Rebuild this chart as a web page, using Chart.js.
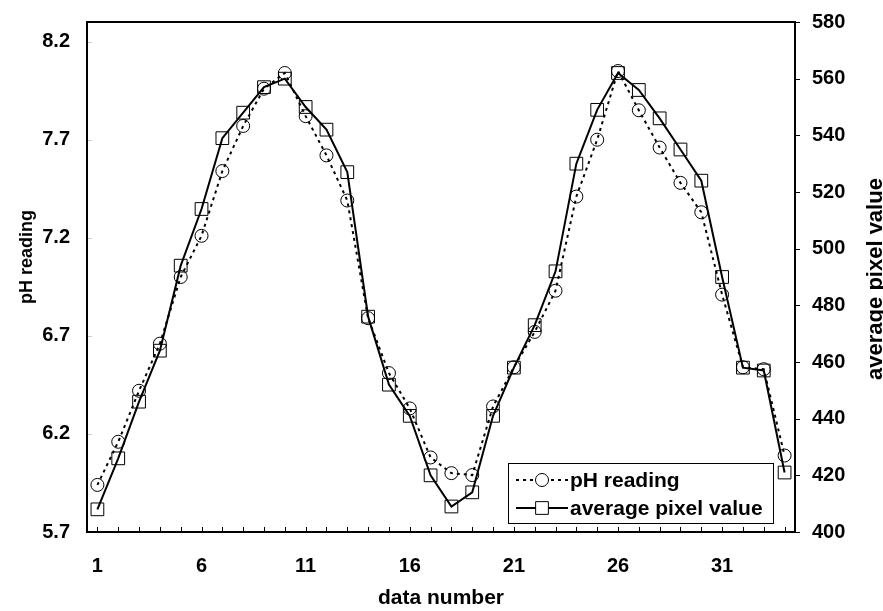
<!DOCTYPE html>
<html>
<head>
<meta charset="utf-8">
<script src="https://cdn.jsdelivr.net/npm/chart.js@4.4.1/dist/chart.umd.min.js"></script>
<style>
  body { margin: 0; background: #fff; }
  canvas { display: block; }
</style>
</head>
<body>
<canvas id="grafico" width="883" height="611"></canvas>
<script>
const ctx = document.getElementById('grafico')

// dados
const dataNumbers = [1, 2, 3, 4, 5, 6, 7, 8, 9, 10, 11, 12, 13, 14, 15, 16, 17,
  18, 19, 20, 21, 22, 23, 24, 25, 26, 27, 28, 29, 30, 31, 32, 33, 34]
const phReading = [5.94, 6.16, 6.42, 6.66, 7.00, 7.21, 7.54, 7.77, 7.96, 8.04, 7.82, 7.62, 7.39, 6.79, 6.51, 6.33, 6.08,
  6.00, 5.99, 6.34, 6.54, 6.72, 6.93, 7.41, 7.70, 8.05, 7.85, 7.66, 7.48, 7.33, 6.91, 6.54, 6.53, 6.09]
const avgPixel = [408, 426, 446, 464, 494, 514, 539, 548, 557, 560, 550, 542, 527, 476, 452, 441, 420,
  409, 414, 441, 458, 473, 492, 530, 549, 562, 556, 546, 535, 524, 490, 458, 457, 421]

const xTicks = [1, 6, 11, 16, 21, 26, 31]
const phTicks = [5.7, 6.2, 6.7, 7.2, 7.7, 8.2]
const pixelTicks = [400, 420, 440, 460, 480, 500, 520, 540, 560, 580]

const FONT = '"Liberation Sans", Arial, sans-serif'

// moldura, marcas de escala, títulos dos eixos e legenda
const extras = {
  id: 'extras',
  afterDatasetsDraw(chart) {
    const c = chart.ctx
    const a = chart.chartArea
    const sx = chart.scales.x, sy = chart.scales.y, sy1 = chart.scales.y1
    c.save()
    c.strokeStyle = '#000'
    c.lineWidth = 1
    // marcas do eixo x (para dentro)
    dataNumbers.forEach(v => {
      const px = Math.round(sx.getPixelForValue(v)) + 0.5
      c.beginPath(); c.moveTo(px, a.bottom); c.lineTo(px, a.bottom - 5); c.stroke()
    })
    // marcas do eixo direito (para fora)
    pixelTicks.forEach(v => {
      const py = Math.round(sy1.getPixelForValue(v)) + 0.5
      c.beginPath(); c.moveTo(a.right, py); c.lineTo(a.right + 5, py); c.stroke()
    })
    // marcas do eixo esquerdo (claras, para dentro)
    c.strokeStyle = '#c8c8c8'
    phTicks.forEach(v => {
      const py = Math.round(sy.getPixelForValue(v)) + 0.5
      c.beginPath(); c.moveTo(a.left, py); c.lineTo(a.left + 5, py); c.stroke()
    })
    // moldura
    c.strokeStyle = '#000'
    c.lineWidth = 2
    c.strokeRect(a.left, a.top, a.right - a.left, a.bottom - a.top)
    c.restore()
  },
  afterDraw(chart) {
    const c = chart.ctx
    c.save()
    c.fillStyle = '#000'
    c.textAlign = 'center'
    c.textBaseline = 'alphabetic'
    // título eixo esquerdo
    c.save()
    c.translate(32, 257)
    c.rotate(-Math.PI / 2)
    c.font = 'bold 18px ' + FONT
    c.fillText('pH reading', 0, 0)
    c.restore()
    // título eixo direito
    c.save()
    c.translate(882, 279)
    c.rotate(-Math.PI / 2)
    c.font = 'bold 22px ' + FONT
    c.fillText('average pixel value', 0, 0)
    c.restore()

    // legenda
    const box = { x: 508, y: 463, w: 265, h: 60 }
    c.fillStyle = '#fff'
    c.fillRect(box.x, box.y, box.w, box.h)
    c.strokeStyle = '#000'
    c.lineWidth = 1
    c.strokeRect(box.x + 0.5, box.y + 0.5, box.w, box.h)
    chart.data.datasets.forEach((ds, i) => {
      const yy = box.y + 17 + i * 28
      c.save()
      c.strokeStyle = '#000'
      c.lineWidth = ds.borderWidth
      c.setLineDash(ds.borderDash || [])
      c.beginPath(); c.moveTo(box.x + 8, yy); c.lineTo(box.x + 60, yy); c.stroke()
      c.restore()
      c.fillStyle = '#fff'
      c.strokeStyle = '#000'
      c.lineWidth = 1
      Chart.helpers.drawPoint(c, {
        pointStyle: ds.pointStyle, radius: ds.pointRadius, rotation: 0, borderWidth: 1
      }, box.x + 34, yy)
      c.fillStyle = '#000'
      c.font = 'bold 21px ' + FONT
      c.textAlign = 'left'
      c.textBaseline = 'middle'
      c.fillText(ds.label, box.x + 62, yy + 1)
    })
    c.restore()
  }
}

const data = {
  datasets: [{
    label: 'pH reading',
    data: dataNumbers.map((n, i) => ({ x: n, y: phReading[i] })),
    yAxisID: 'y',
    borderColor: '#000',
    borderWidth: 2,
    borderDash: [3, 4],
    pointStyle: 'circle',
    pointRadius: 6.5,
    pointHoverRadius: 6.5,
    pointBorderWidth: 1,
    pointBorderColor: '#000',
    pointBackgroundColor: 'rgba(0,0,0,0)',
    tension: 0
  }, {
    label: 'average pixel value',
    data: dataNumbers.map((n, i) => ({ x: n, y: avgPixel[i] })),
    yAxisID: 'y1',
    borderColor: '#000',
    borderWidth: 2,
    pointStyle: 'rect',
    pointRadius: 9,
    pointHoverRadius: 9,
    pointBorderWidth: 1,
    pointBorderColor: '#000',
    pointBackgroundColor: 'rgba(0,0,0,0)',
    tension: 0
  }]
}

const tickFont = { family: FONT, size: 20, weight: 'bold' }

// sem margens extras das etiquetas
const noPad = s => { s.paddingTop = 0; s.paddingBottom = 0; s.paddingLeft = 0; s.paddingRight = 0 }

const config = {
  type: 'line',
  data,
  options: {
    responsive: false,
    animation: false,
    devicePixelRatio: 1,
    layout: { padding: { top: 22, left: 0, right: 0, bottom: 0 } },
    plugins: {
      legend: { display: false },
      tooltip: { enabled: false }
    },
    scales: {
      x: {
        type: 'linear',
        min: 0.5,
        max: 34.5,
        grid: { display: false, drawTicks: false },
        border: { display: false },
        afterBuildTicks: s => { s.ticks = xTicks.map(v => ({ value: v })) },
        afterFit: s => { s.height = 79; noPad(s) },
        ticks: { color: '#000', font: tickFont, padding: 22, maxRotation: 0, autoSkip: false },
        title: {
          display: true,
          text: 'data number',
          color: '#000',
          font: { family: FONT, size: 21, weight: 'bold' },
          padding: 0
        }
      },
      y: {
        position: 'left',
        min: 5.7,
        max: 8.3,
        grid: { display: false, drawTicks: false },
        border: { display: false },
        afterBuildTicks: s => { s.ticks = phTicks.map(v => ({ value: v })) },
        afterFit: s => { s.width = 87; noPad(s) },
        ticks: { color: '#000', font: tickFont, padding: 17, callback: v => v.toFixed(1) }
      },
      y1: {
        position: 'right',
        min: 400,
        max: 580,
        grid: { display: false, drawTicks: false },
        border: { display: false },
        afterBuildTicks: s => { s.ticks = pixelTicks.map(v => ({ value: v })) },
        afterFit: s => { s.width = 88; noPad(s) },
        ticks: { color: '#000', font: tickFont, padding: 17 }
      }
    }
  },
  plugins: [extras]
}

const graph = new Chart(ctx, config)
</script>
</body>
</html>
